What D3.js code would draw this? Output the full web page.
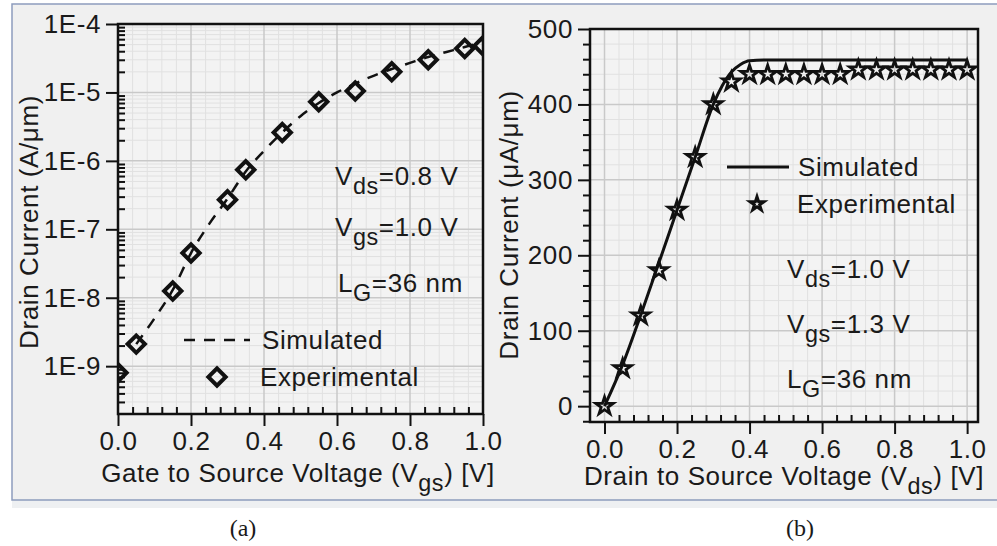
<!DOCTYPE html>
<html>
<head>
<meta charset="utf-8">
<script src="https://cdn.jsdelivr.net/npm/d3@7"></script>
<style>
  body { margin: 0; background: #fff; }
  svg text { font-family: "Liberation Sans", Arial, sans-serif; fill: #1a1a1a; letter-spacing: 0.6px; }
  .axis path, .axis line { stroke: #111; }
</style>
</head>
<body>
<svg id="chart" width="997" height="546"></svg>
<script>
// panel (a): transfer curve, log scale
const vgsExp = [0, 0.05, 0.15, 0.2, 0.3, 0.35, 0.45, 0.55, 0.65, 0.75, 0.85, 0.95, 1.0];
const idExp = [8e-10, 2.1e-9, 1.25e-8, 4.5e-8, 2.7e-7, 7.4e-7, 2.6e-6, 7.3e-6, 1.05e-5, 2e-5, 3e-5, 4.4e-5, 4.8e-5];
const vgsSim = [0.05, 0.1, 0.15, 0.2, 0.25, 0.3, 0.35, 0.4, 0.45, 0.5, 0.55, 0.6, 0.65, 0.7, 0.75, 0.8, 0.85, 0.9, 0.95, 1.0];
const idSim = [2.1e-9, 5e-9, 1.3e-8, 4.5e-8, 1.2e-7, 2.8e-7, 7e-7, 1.4e-6, 2.6e-6, 4.5e-6, 7e-6, 1e-5, 1.35e-5, 1.75e-5, 2.2e-5, 2.7e-5, 3.3e-5, 3.9e-5, 4.6e-5, 5.5e-5];
const logTicks = [1e-9, 1e-8, 1e-7, 1e-6, 1e-5, 1e-4];
const logTickLabels = ["1E-9", "1E-8", "1E-7", "1E-6", "1E-5", "1E-4"];

// panel (b): output curve, linear
const vdsExp = [0, 0.05, 0.1, 0.15, 0.2, 0.25, 0.3, 0.35, 0.4, 0.45, 0.5, 0.55, 0.6, 0.65, 0.7, 0.75, 0.8, 0.85, 0.9, 0.95, 1.0];
const idsExp = [0, 50, 120, 180, 260, 330, 400, 430, 440, 440, 440, 440, 440, 440, 446, 446, 446, 446, 446, 446, 446];
const vdsSim = [0, 0.05, 0.1, 0.15, 0.2, 0.25, 0.3, 0.325, 0.35, 0.375, 0.4, 0.45, 0.6, 0.8, 1.0];
const idsSim = [0, 55, 121, 190, 260, 330, 400, 425, 443, 453, 458, 459, 459, 459, 459];
const linTicks = [0, 100, 200, 300, 400, 500];
const vTicks = [0, 0.2, 0.4, 0.6, 0.8, 1.0];

const FS = 26;
const svg = d3.select("#chart");

// outer figure frame
svg.append("rect").attr("x", 12).attr("y", 500).attr("width", 990).attr("height", 8).attr("fill", "#eef0f2");
svg.append("rect").attr("x", 12).attr("y", 4).attr("width", 990).attr("height", 496)
  .attr("fill", "#f0f0f0").attr("stroke", "#8d9cbd").attr("stroke-width", 1.5);

function drawPanel(cfg) {
  const { x, y, id } = cfg;
  const [x0, x1] = x.range();
  const [y0, y1] = y.range();
  const g = svg.append("g");

  g.append("rect").attr("x", x0).attr("y", y1).attr("width", x1 - x0).attr("height", y0 - y1)
    .attr("fill", "#f3f3f3");

  // minor grid
  g.append("g").selectAll("line").data(cfg.xMinor).join("line")
    .attr("x1", d => x(d)).attr("x2", d => x(d)).attr("y1", y1).attr("y2", y0)
    .attr("stroke", "#e1e1e1").attr("stroke-width", 1);
  g.append("g").selectAll("line").data(cfg.yMinor).join("line")
    .attr("y1", d => y(d)).attr("y2", d => y(d)).attr("x1", x0).attr("x2", x1)
    .attr("stroke", "#e1e1e1").attr("stroke-width", 1);
  // major grid
  g.append("g").selectAll("line").data(cfg.xMajor).join("line")
    .attr("x1", d => x(d)).attr("x2", d => x(d)).attr("y1", y1).attr("y2", y0)
    .attr("stroke", "#c9c9c9").attr("stroke-width", 1.5);
  g.append("g").selectAll("line").data(cfg.yMajor).join("line")
    .attr("y1", d => y(d)).attr("y2", d => y(d)).attr("x1", x0).attr("x2", x1)
    .attr("stroke", "#c9c9c9").attr("stroke-width", 1.5);

  // axes
  const ax = g.append("g").attr("class", "axis").attr("transform", `translate(0,${y0})`)
    .call(d3.axisBottom(x).tickValues(cfg.xMajor).tickSize(12).tickPadding(5).tickFormat(d3.format(".1f")));
  g.append("g").attr("class", "axis").attr("transform", `translate(0,${y0})`)
    .call(d3.axisBottom(x).tickValues(cfg.xMinor).tickSize(-7).tickFormat(""))
    .select(".domain").remove();
  g.append("g").attr("class", "axis").attr("transform", `translate(${x0},0)`)
    .call(d3.axisLeft(y).tickValues(cfg.yMajor).tickSize(12).tickPadding(5).tickFormat(cfg.yFormat));
  g.append("g").attr("class", "axis").attr("transform", `translate(${x0},0)`)
    .call(d3.axisLeft(y).tickValues(cfg.yMinor).tickSize(cfg.yMinorSize).tickFormat(""))
    .select(".domain").remove();
  g.selectAll(".axis .domain").remove();
  g.selectAll(".axis line").attr("stroke-width", 2);
  g.selectAll(".axis text").attr("font-size", FS).attr("fill", "#1a1a1a");
  ax.selectAll("text").attr("dy", "0.72em");

  // plot frame
  g.append("rect").attr("x", x0).attr("y", y1).attr("width", x1 - x0).attr("height", y0 - y1)
    .attr("fill", "none").attr("stroke", "#111").attr("stroke-width", 2.5);

  g.append("clipPath").attr("id", id).append("rect")
    .attr("x", x0).attr("y", y1).attr("width", x1 - x0).attr("height", y0 - y1);
  return g;
}

function subText(g, x, y, parts, size, anchor) {
  const t = g.append("text").attr("x", x).attr("y", y).attr("font-size", size)
    .attr("text-anchor", anchor || "start");
  parts.forEach(p => {
    if (p.sub) {
      t.append("tspan").text(p.sub).attr("font-size", size * 0.9).attr("dy", size * 0.36);
    } else {
      t.append("tspan").text(p.t).attr("dy", p.after ? -size * 0.36 : 0);
    }
  });
  return t;
}

// ---------- panel (a)
const xA = d3.scaleLinear().domain([0, 1]).range([118, 483]);
const yA = d3.scaleLog().domain([2e-10, 1e-4]).range([414, 24]);
const minorLog = [];
[-10, -9, -8, -7, -6, -5].forEach(e => {
  for (let k = 2; k <= 9; k++) {
    const v = k * Math.pow(10, e);
    if (v > 2e-10 && v < 1e-4) minorLog.push(v);
  }
});
const gA = drawPanel({
  x: xA, y: yA, id: "clipA",
  xMajor: vTicks, xMinor: d3.range(0.04, 1, 0.04).filter(v => Math.abs(v * 5 - Math.round(v * 5)) > 1e-6),
  yMajor: logTicks, yMinor: minorLog, yMinorSize: -7,
  yFormat: (d, i) => logTickLabels[i]
});

const plotA = gA.append("g").attr("clip-path", "url(#clipA)");
plotA.append("path")
  .datum(vgsSim.map((v, i) => [v, idSim[i]]))
  .attr("fill", "none").attr("stroke", "#111").attr("stroke-width", 2.5)
  .attr("stroke-dasharray", "11,9")
  .attr("d", d3.line().x(d => xA(d[0])).y(d => yA(d[1])).curve(d3.curveMonotoneX));
const diamond = d3.symbol().type(d3.symbolSquare).size(150);
plotA.selectAll(".dia").data(vgsExp.map((v, i) => [v, idExp[i]])).join("path")
  .attr("d", diamond)
  .attr("transform", d => `translate(${xA(d[0])},${yA(d[1])}) rotate(45)`)
  .attr("fill", "none").attr("stroke", "#111").attr("stroke-width", 4);

// legend (a)
gA.append("line").attr("x1", 184).attr("x2", 250).attr("y1", 340).attr("y2", 340)
  .attr("stroke", "#111").attr("stroke-width", 2.5).attr("stroke-dasharray", "11,9");
gA.append("text").attr("x", 262).attr("y", 349).attr("font-size", FS).text("Simulated");
gA.append("path").attr("d", diamond).attr("transform", "translate(217,377) rotate(45)")
  .attr("fill", "none").attr("stroke", "#111").attr("stroke-width", 4);
gA.append("text").attr("x", 260).attr("y", 386).attr("font-size", FS).text("Experimental");

subText(gA, 335, 185, [{ t: "V" }, { sub: "ds" }, { t: "=0.8 V", after: true }], FS);
subText(gA, 335, 236, [{ t: "V" }, { sub: "gs" }, { t: "=1.0 V", after: true }], FS);
subText(gA, 338, 292, [{ t: "L" }, { sub: "G" }, { t: "=36 nm", after: true }], FS);

subText(gA, 298, 482, [{ t: "Gate to Source Voltage (V" }, { sub: "gs" }, { t: ") [V]", after: true }], FS, "middle");
gA.append("text").attr("transform", "translate(38,222) rotate(-90)").attr("text-anchor", "middle")
  .attr("font-size", FS).text("Drain Current (A/\u03bcm)");

// ---------- panel (b)
const xB = d3.scaleLinear().domain([-0.04, 1.03]).range([590, 978]);
const yB = d3.scaleLinear().domain([-21, 500]).range([422, 29]);
const gB = drawPanel({
  x: xB, y: yB, id: "clipB",
  xMajor: vTicks, xMinor: d3.range(0.04, 1.01, 0.04).filter(v => Math.abs(v * 5 - Math.round(v * 5)) > 1e-6),
  yMajor: linTicks, yMinor: d3.range(-20, 500, 20).filter(v => v % 100 !== 0), yMinorSize: 7,
  yFormat: d3.format("d")
});

const plotB = gB.append("g").attr("clip-path", "url(#clipB)");
plotB.append("path")
  .datum(vdsSim.map((v, i) => [v, idsSim[i]]))
  .attr("fill", "none").attr("stroke", "#111").attr("stroke-width", 3)
  .attr("d", d3.line().x(d => xB(d[0])).y(d => yB(d[1])).curve(d3.curveMonotoneX));
const star = d3.symbol().type(d3.symbolStar).size(95);
plotB.selectAll(".star").data(vdsExp.map((v, i) => [v, idsExp[i]])).join("path")
  .attr("d", star)
  .attr("transform", d => `translate(${xB(d[0])},${yB(d[1])})`)
  .attr("fill", "none").attr("stroke", "#111").attr("stroke-width", 2.8);

// legend (b)
gB.append("line").attr("x1", 727).attr("x2", 789).attr("y1", 167).attr("y2", 167)
  .attr("stroke", "#111").attr("stroke-width", 3);
gB.append("text").attr("x", 798).attr("y", 176).attr("font-size", FS).text("Simulated");
gB.append("path").attr("d", d3.symbol().type(d3.symbolStar).size(60)).attr("transform", "translate(757,204)")
  .attr("fill", "#f0f0f0").attr("stroke", "#111").attr("stroke-width", 3);
gB.append("text").attr("x", 797).attr("y", 213).attr("font-size", FS).text("Experimental");

subText(gB, 787, 278, [{ t: "V" }, { sub: "ds" }, { t: "=1.0 V", after: true }], FS);
subText(gB, 787, 333, [{ t: "V" }, { sub: "gs" }, { t: "=1.3 V", after: true }], FS);
subText(gB, 787, 388, [{ t: "L" }, { sub: "G" }, { t: "=36 nm", after: true }], FS);

subText(gB, 784, 485, [{ t: "Drain to Source Voltage (V" }, { sub: "ds" }, { t: ") [V]", after: true }], FS, "middle");
gB.append("text").attr("transform", "translate(518,225) rotate(-90)").attr("text-anchor", "middle")
  .attr("font-size", FS).text("Drain Current (\u03bcA/\u03bcm)");

// captions
svg.append("text").attr("x", 243).attr("y", 536).attr("text-anchor", "middle")
  .style("font-family", "'Liberation Serif', 'Times New Roman', serif").style("letter-spacing", "0")
  .attr("font-size", 24).text("(a)");
svg.append("text").attr("x", 800).attr("y", 536).attr("text-anchor", "middle")
  .style("font-family", "'Liberation Serif', 'Times New Roman', serif").style("letter-spacing", "0")
  .attr("font-size", 24).text("(b)");
</script>
</body>
</html>
